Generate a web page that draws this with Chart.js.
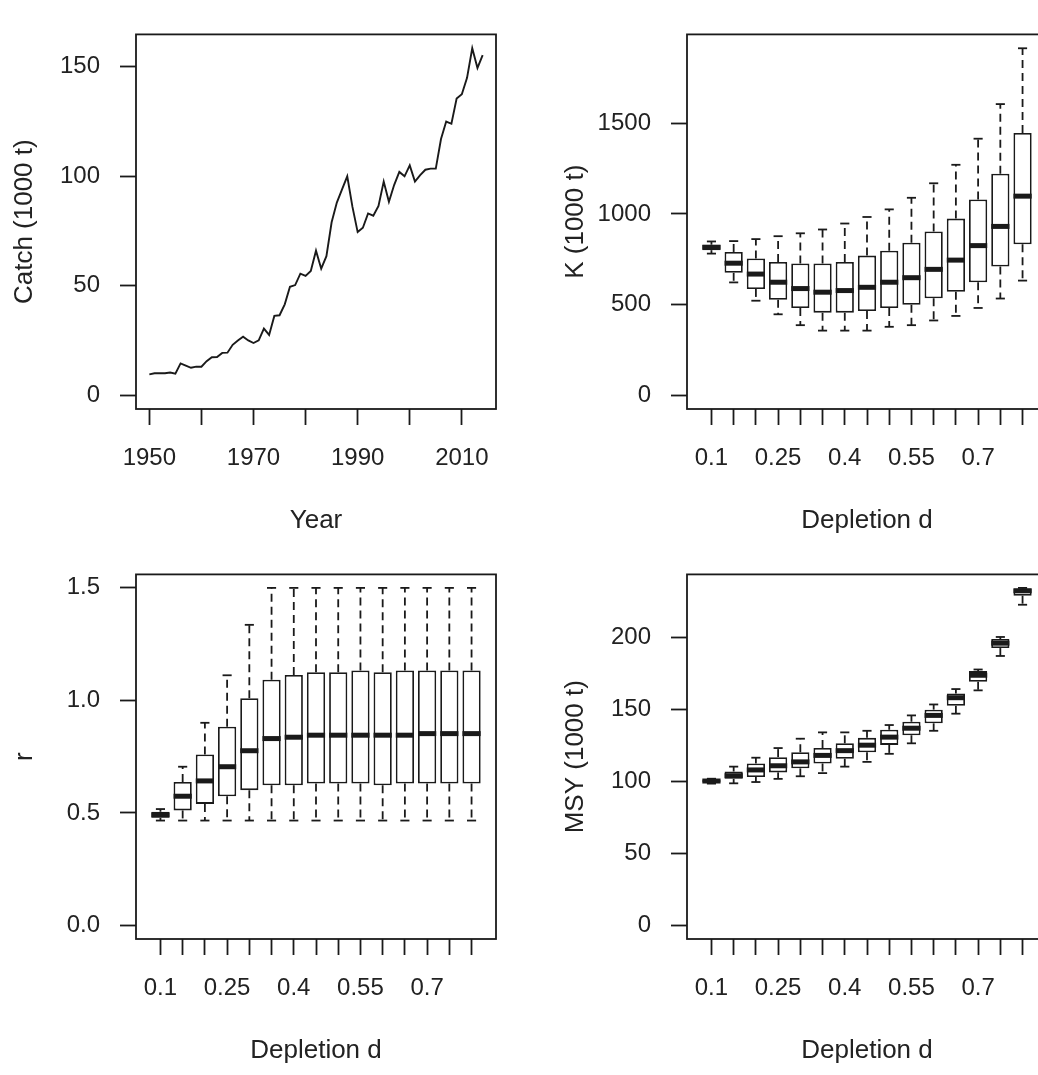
<!DOCTYPE html>
<html>
<head>
<meta charset="utf-8">
<script src="https://cdn.jsdelivr.net/npm/chart.js@4/dist/chart.umd.min.js"></script>
<style>
  html, body { margin: 0; padding: 0; background: #fff; }
  #wrap { position: relative; width: 1038px; height: 1075px; overflow: hidden; background: #fff; }
  #wrap canvas { position: absolute; }
</style>
</head>
<body>
<div id="wrap">
  <canvas id="catchChart" width="519" height="540" style="left:0;top:0"></canvas>
  <canvas id="kChart" width="519" height="540" style="left:551px;top:0"></canvas>
  <canvas id="rChart" width="519" height="535" style="left:0;top:540px"></canvas>
  <canvas id="msyChart" width="519" height="535" style="left:551px;top:540px"></canvas>
</div>
<script>
// catch series
const years = [
  1950, 1951, 1952, 1953, 1954, 1955, 1956, 1957, 1958, 1959,
  1960, 1961, 1962, 1963, 1964, 1965, 1966, 1967, 1968, 1969,
  1970, 1971, 1972, 1973, 1974, 1975, 1976, 1977, 1978, 1979,
  1980, 1981, 1982, 1983, 1984, 1985, 1986, 1987, 1988, 1989,
  1990, 1991, 1992, 1993, 1994, 1995, 1996, 1997, 1998, 1999,
  2000, 2001, 2002, 2003, 2004, 2005, 2006, 2007, 2008, 2009,
  2010, 2011, 2012, 2013, 2014
];
const catchValues = [
  9.5, 10, 10, 10, 10.3, 9.8, 14.5, 13.5, 12.5, 13,
  13, 15.5, 17.3, 17.4, 19.3, 19.4, 23, 25, 26.7, 25,
  23.8, 25, 30.4, 27.5, 36.2, 36.5, 41.5, 49.5, 50.3, 55.5,
  54.5, 56.7, 66, 57.8, 63.5, 79, 88, 94, 100, 86,
  74.5, 76.5, 83, 82, 86.5, 97.6, 88.4, 96, 102, 100,
  105, 97.6, 100.5, 103, 103.5, 103.5, 117, 125, 124, 135.5,
  137.5, 145, 158.5, 149.5, 155.4
];
const yearTicks = [1950, 1960, 1970, 1980, 1990, 2000, 2010];
const yearLabels = ['1950', '', '1970', '', '1990', '', '2010'];
const catchTicks = [0, 50, 100, 150];

// depletion levels (box positions 1..15)
const depletion = ['0.1', '0.15', '0.2', '0.25', '0.3', '0.35', '0.4', '0.45', '0.5', '0.55', '0.6', '0.65', '0.7', '0.75', '0.8'];
const depletionShown = ['0.1', '0.25', '0.4', '0.55', '0.7'];

// K (1000 t)
const kLo  = [781, 622, 521, 446, 386, 356, 356, 356, 377, 386, 412, 437, 481, 533, 632];
const kQ1  = [800, 675, 586, 526, 481, 455, 455, 464, 481, 499, 534, 570, 623, 710, 832];
const kMed = [816, 728, 668, 623, 588, 568, 577, 595, 623, 648, 694, 745, 825, 931, 1098];
const kQ3  = [830, 790, 754, 735, 726, 726, 735, 770, 797, 841, 903, 974, 1080, 1222, 1447];
const kHi  = [848, 850, 861, 877, 893, 914, 947, 983, 1025, 1089, 1169, 1271, 1415, 1606, 1914];
const kTicks = [0, 500, 1000, 1500];

// r
const rLo  = [0.466, 0.466, 0.466, 0.466, 0.466, 0.466, 0.466, 0.466, 0.466, 0.466, 0.466, 0.466, 0.466, 0.466, 0.466];
const rQ1  = [0.478, 0.511, 0.540, 0.574, 0.601, 0.623, 0.623, 0.630, 0.630, 0.630, 0.623, 0.630, 0.630, 0.630, 0.630];
const rMed = [0.491, 0.574, 0.642, 0.705, 0.776, 0.830, 0.836, 0.845, 0.845, 0.845, 0.845, 0.845, 0.852, 0.852, 0.852];
const rQ3  = [0.505, 0.637, 0.759, 0.883, 1.009, 1.091, 1.112, 1.125, 1.125, 1.132, 1.125, 1.132, 1.132, 1.132, 1.132];
const rHi  = [0.517, 0.705, 0.900, 1.111, 1.335, 1.499, 1.499, 1.499, 1.499, 1.499, 1.499, 1.499, 1.499, 1.499, 1.499];
const rTicks = [0, 0.5, 1, 1.5];
const rTickLabels = ['0.0', '0.5', '1.0', '1.5'];

// MSY (1000 t)
const mLo  = [98.6, 98.8, 99.7, 101.9, 103.7, 105.9, 110.4, 113.7, 119.3, 126.6, 135.3, 147.2, 163.4, 187.3, 222.9];
const mQ1  = [99.6, 101.9, 103.2, 106.4, 109.2, 112.6, 115.9, 120.4, 125.5, 132.2, 140.5, 152.7, 169.4, 192.8, 229.2];
const mMed = [100.4, 104.1, 108.1, 111, 113.7, 118.2, 121.5, 125.3, 130.9, 137.1, 146, 158.3, 173.9, 196.2, 232.6];
const mQ3  = [101.2, 107, 112.6, 117, 120.4, 123.3, 126.6, 130.4, 136, 141.6, 150, 161.2, 176.8, 199.1, 234.1];
const mHi  = [102, 110.4, 116.6, 123.3, 129.8, 134.2, 134.2, 135.3, 139.3, 146, 153.6, 164.3, 177.9, 200.5, 234.6];
const msyTicks = [0, 50, 100, 150, 200];

const INK = '#1a1a1a';
Chart.defaults.font.family = '"Liberation Sans", Arial, sans-serif';
Chart.defaults.font.size = 24;
Chart.defaults.color = '#222';

// R style: pad the data range by 4% on each side
function pad(lo, hi) {
    const d = (hi - lo) * 0.04;
    return [lo - d, hi + d];
}

const framePlugin = {
    id: 'frame',
    afterDraw(chart) {
        const a = chart.chartArea;
        const ctx = chart.ctx;
        ctx.save();
        ctx.strokeStyle = INK;
        ctx.lineWidth = 1.8;
        ctx.strokeRect(a.left, a.top, a.right - a.left, a.bottom - a.top);
        ctx.restore();
    }
};

function strokeLine(ctx, x1, y1, x2, y2) {
    ctx.beginPath();
    ctx.moveTo(x1, y1);
    ctx.lineTo(x2, y2);
    ctx.stroke();
}

// whiskers, staples and medians for the floating-bar boxes
const whiskerPlugin = {
    id: 'whiskers',
    beforeDatasetsDraw(chart) {
        const ds = chart.data.datasets[0];
        if (!ds.whiskers) return;
        const { ctx, scales: { x, y } } = chart;
        const w = ds.whiskers;
        const bars = chart.getDatasetMeta(0).data;
        ctx.save();
        ctx.strokeStyle = INK;
        ctx.lineWidth = 1.8;
        w.lo.forEach((lo, i) => {
            const cx = x.getPixelForValue(i + 1);
            const half = bars[i].width / 4;
            const [q1, q3] = ds.data[i].y;
            ctx.setLineDash([8, 5]);
            strokeLine(ctx, cx, y.getPixelForValue(q3), cx, y.getPixelForValue(w.hi[i]));
            strokeLine(ctx, cx, y.getPixelForValue(q1), cx, y.getPixelForValue(lo));
            ctx.setLineDash([]);
            strokeLine(ctx, cx - half, y.getPixelForValue(w.hi[i]), cx + half, y.getPixelForValue(w.hi[i]));
            strokeLine(ctx, cx - half, y.getPixelForValue(lo), cx + half, y.getPixelForValue(lo));
        });
        ctx.restore();
    },
    afterDatasetsDraw(chart) {
        const ds = chart.data.datasets[0];
        if (!ds.whiskers) return;
        const { ctx, scales: { x, y } } = chart;
        const bars = chart.getDatasetMeta(0).data;
        ctx.save();
        ctx.strokeStyle = INK;
        ctx.lineWidth = 5;
        ds.whiskers.med.forEach((m, i) => {
            const cx = x.getPixelForValue(i + 1);
            const half = bars[i].width / 2;
            const py = y.getPixelForValue(m);
            strokeLine(ctx, cx - half, py, cx + half, py);
        });
        ctx.restore();
    }
};

function makeOptions(cfg) {
    const [xMin, xMax] = cfg.xRange;
    const [yMin, yMax] = cfg.yRange;
    const tickGrid = {
        offset: false,
        drawOnChartArea: false,
        drawTicks: true,
        tickLength: 16,
        tickWidth: 1.8,
        tickColor: INK
    };
    return {
        responsive: false,
        animation: false,
        events: [],
        layout: { padding: { left: 0, top: 19, right: 23, bottom: cfg.padBottom } },
        plugins: { legend: { display: false }, tooltip: { enabled: false } },
        scales: {
            x: {
                type: 'linear',
                min: xMin,
                max: xMax,
                offset: false,
                afterFit: s => { s.height = 130; },
                afterBuildTicks: s => { s.ticks = cfg.xTicks.map(v => ({ value: v })); },
                ticks: {
                    autoSkip: false,
                    maxRotation: 0,
                    minRotation: 0,
                    padding: 19,
                    color: '#222',
                    callback: (v, i) => cfg.xLabels[i]
                },
                grid: tickGrid,
                border: { display: false },
                title: {
                    display: true,
                    text: cfg.xTitle,
                    color: '#222',
                    font: { size: 26 },
                    padding: { top: 0, bottom: 3 }
                }
            },
            y: {
                type: 'linear',
                min: yMin,
                max: yMax,
                afterFit: s => { s.width = 136; },
                afterBuildTicks: s => { s.ticks = cfg.yTicks.map(v => ({ value: v })); },
                ticks: {
                    padding: 20,
                    color: '#222',
                    callback: (v, i) => cfg.yLabels[i]
                },
                grid: tickGrid,
                border: { display: false },
                title: {
                    display: true,
                    text: cfg.yTitle,
                    color: '#222',
                    font: { size: 26 },
                    padding: { top: 9, bottom: 0 }
                }
            }
        }
    };
}

function boxChart(id, q1, q3, lo, med, hi, yTicks, yLabels, yTitle, padBottom) {
    const positions = depletion.map((d, i) => i + 1);
    return new Chart(document.getElementById(id), {
        type: 'bar',
        data: {
            datasets: [{
                data: positions.map((p, i) => ({ x: p, y: [q1[i], q3[i]] })),
                backgroundColor: '#ffffff',
                borderColor: INK,
                borderWidth: 1.8,
                borderSkipped: false,
                barPercentage: 0.82,
                categoryPercentage: 1,
                whiskers: { lo: lo, med: med, hi: hi }
            }]
        },
        options: makeOptions({
            xRange: pad(0.5, depletion.length + 0.5),
            yRange: pad(0, Math.max(...hi)),
            xTicks: positions,
            xLabels: depletion.map(d => depletionShown.includes(d) ? d : ''),
            xTitle: 'Depletion d',
            yTicks: yTicks,
            yLabels: yLabels,
            yTitle: yTitle,
            padBottom: padBottom
        }),
        plugins: [whiskerPlugin, framePlugin]
    });
}

new Chart(document.getElementById('catchChart'), {
    type: 'line',
    data: {
        datasets: [{
            data: years.map((yr, i) => ({ x: yr, y: catchValues[i] })),
            borderColor: INK,
            borderWidth: 1.9,
            pointRadius: 0,
            tension: 0,
            fill: false
        }]
    },
    options: makeOptions({
        xRange: pad(years[0], years[years.length - 1]),
        yRange: pad(0, Math.max(...catchValues)),
        xTicks: yearTicks,
        xLabels: yearLabels,
        xTitle: 'Year',
        yTicks: catchTicks,
        yLabels: catchTicks.map(String),
        yTitle: 'Catch (1000 t)',
        padBottom: 1
    }),
    plugins: [framePlugin]
});

boxChart('kChart', kQ1, kQ3, kLo, kMed, kHi, kTicks, kTicks.map(String), 'K (1000 t)', 1);
boxChart('rChart', rQ1, rQ3, rLo, rMed, rHi, rTicks, rTickLabels, 'r', 6);
boxChart('msyChart', mQ1, mQ3, mLo, mMed, mHi, msyTicks, msyTicks.map(String), 'MSY (1000 t)', 6);
</script>
</body>
</html>
